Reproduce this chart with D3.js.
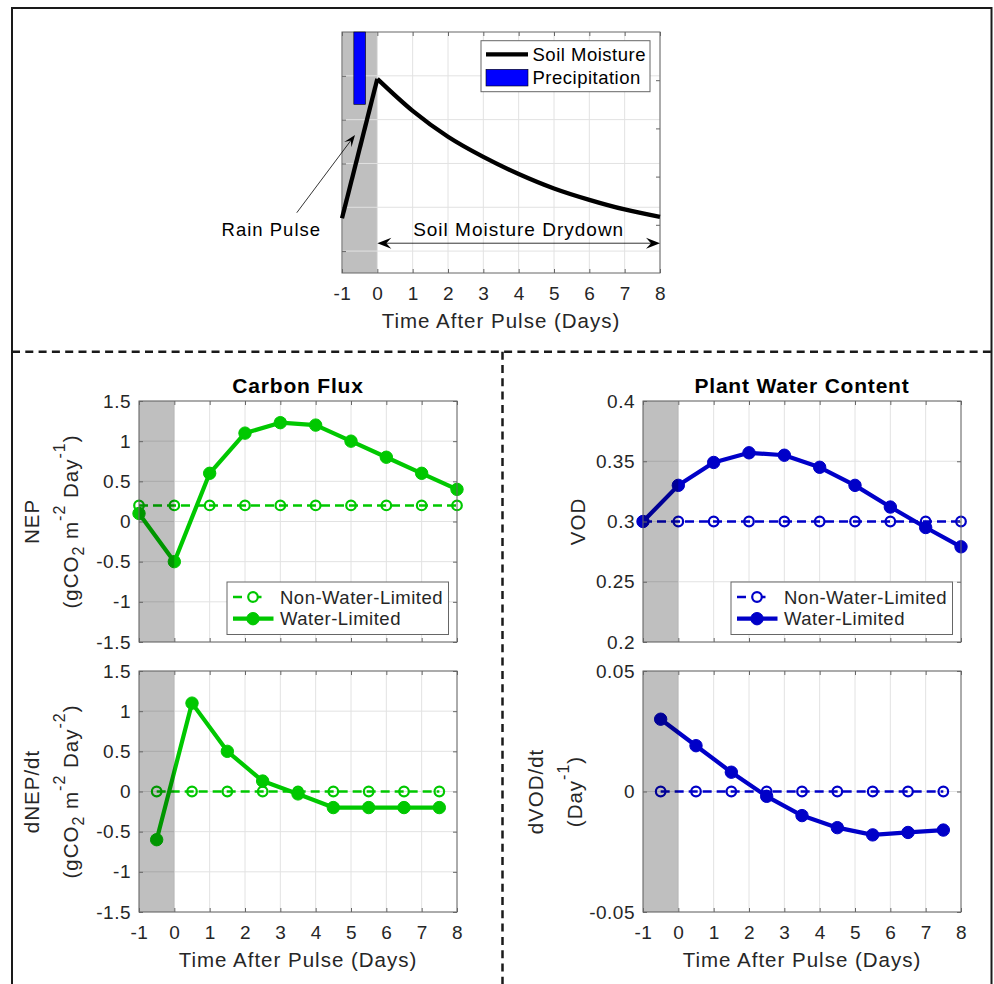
<!DOCTYPE html>
<html>
<head>
<meta charset="utf-8">
<script src="https://cdn.jsdelivr.net/npm/d3@7"></script>
<style>
  body { margin: 0; background: #fff; }
  svg { display: block; font-family: "Liberation Sans", Arial, Helvetica, sans-serif; }
</style>
</head>
<body>
<svg id="fig" width="994" height="984"></svg>
<script>
// --- data ---
const dayTicks = [-1, 0, 1, 2, 3, 4, 5, 6, 7, 8];

// top panel: soil moisture (left axis, arbitrary units) and rain (right axis, reversed)
const smDays = [-1, 0, 1, 2, 3, 4, 5, 6, 7, 8];
const soilMoisture = [0.175, 0.493, 0.420, 0.361, 0.315, 0.276, 0.243, 0.217, 0.195, 0.178];
const smTicks = [0.1, 0.2, 0.3, 0.4, 0.5];
const rainDays = [-0.5];
const rainAmount = [1.5];
const rainTicks = [1, 2, 3, 4];

// daily states (integer days) and day-to-day rates (half days)
const stateDays = [-1, 0, 1, 2, 3, 4, 5, 6, 7, 8];
const rateDays = [-0.5, 0.5, 1.5, 2.5, 3.5, 4.5, 5.5, 6.5, 7.5];

const nepNonLimited = [0.2, 0.2, 0.2, 0.2, 0.2, 0.2, 0.2, 0.2, 0.2, 0.2];
const nepLimited = [0.1, -0.5, 0.6, 1.1, 1.23, 1.2, 1.0, 0.8, 0.6, 0.4];
const dnepNonLimited = [0, 0, 0, 0, 0, 0, 0, 0, 0];
const dnepLimited = [-0.6, 1.1, 0.5, 0.13, -0.03, -0.2, -0.2, -0.2, -0.2];

const vodNonLimited = [0.3, 0.3, 0.3, 0.3, 0.3, 0.3, 0.3, 0.3, 0.3, 0.3];
const vodLimited = [0.3, 0.33, 0.349, 0.357, 0.355, 0.345, 0.33, 0.312, 0.295, 0.279];
const dvodNonLimited = [0, 0, 0, 0, 0, 0, 0, 0, 0];
const dvodLimited = [0.03, 0.019, 0.008, -0.002, -0.01, -0.015, -0.018, -0.017, -0.016];

const nepTicks = [-1.5, -1, -0.5, 0, 0.5, 1, 1.5];
const vodTicks = [0.2, 0.25, 0.3, 0.35, 0.4];
const dvodTicks = [-0.05, 0, 0.05];

const seriesNames = ["Non-Water-Limited", "Water-Limited"];

// --- style ---
const W = 318, H = 241;
const GREEN = "rgb(0,200,0)";
const BLUE = "rgb(0,0,200)";
const GRID = "#e2e2e2";
const AXIS = "#666";
const TXT = "#262626";
const TICK_FONT = 19;

const svg = d3.select("#fig");

// outer frame and dashed dividers
svg.append("rect").attr("x", 12).attr("y", 8).attr("width", 979.5).attr("height", 1000)
  .attr("fill", "none").attr("stroke", "#1a1a1a").attr("stroke-width", 2);
svg.append("line").attr("x1", 12).attr("x2", 991).attr("y1", 351.7).attr("y2", 351.7)
  .attr("stroke", "#1a1a1a").attr("stroke-width", 2.5).attr("stroke-dasharray", "8,5.3");
svg.append("line").attr("x1", 502.5).attr("x2", 502.5).attr("y1", 351.7).attr("y2", 984)
  .attr("stroke", "#1a1a1a").attr("stroke-width", 2.5).attr("stroke-dasharray", "8,5.3");

function makeAxes(left, top, yDomain) {
  return {
    left, top,
    x: d3.scaleLinear().domain([-1, 8]).range([left, left + W]),
    y: d3.scaleLinear().domain(yDomain).range([top + H, top])
  };
}

function drawGrid(g, ax, yTicks) {
  g.append("g").selectAll("line").data(dayTicks).join("line")
    .attr("x1", d => ax.x(d)).attr("x2", d => ax.x(d))
    .attr("y1", ax.top).attr("y2", ax.top + H)
    .attr("stroke", GRID).attr("stroke-width", 1);
  g.append("g").selectAll("line").data(yTicks).join("line")
    .attr("x1", ax.left).attr("x2", ax.left + W)
    .attr("y1", d => ax.y(d)).attr("y2", d => ax.y(d))
    .attr("stroke", GRID).attr("stroke-width", 1);
}

function styleAxis(sel) {
  sel.select(".domain").remove();
  sel.selectAll(".tick line").attr("stroke", AXIS);
  sel.selectAll(".tick text").attr("fill", TXT).attr("font-size", TICK_FONT)
    .attr("letter-spacing", "0.5px").attr("font-family", null);
}

function drawBox(g, ax, opts) {
  const none = () => "";
  const fmt = d => String(d);
  g.append("g").attr("transform", `translate(0,${ax.top + H})`)
    .call(d3.axisBottom(ax.x).tickValues(dayTicks).tickSize(-4).tickPadding(13.5)
      .tickFormat(opts.xLabels ? fmt : none))
    .call(styleAxis);
  g.append("g").attr("transform", `translate(0,${ax.top})`)
    .call(d3.axisTop(ax.x).tickValues(dayTicks).tickSize(-4).tickFormat(none))
    .call(styleAxis);
  g.append("g").attr("transform", `translate(${ax.left},0)`)
    .call(d3.axisLeft(ax.y).tickValues(opts.yTicks).tickSize(-4).tickPadding(8)
      .tickFormat(opts.yLabels ? fmt : none))
    .call(styleAxis);
  const ry = opts.rightScale || ax.y;
  g.append("g").attr("transform", `translate(${ax.left + W},0)`)
    .call(d3.axisRight(ry).tickValues(opts.rightTicks || opts.yTicks).tickSize(-4).tickFormat(none))
    .call(styleAxis);
  g.append("rect").attr("x", ax.left).attr("y", ax.top).attr("width", W).attr("height", H)
    .attr("fill", "none").attr("stroke", AXIS).attr("stroke-width", 1);
}

function drawShade(g, ax, opacity) {
  g.append("rect")
    .attr("x", ax.x(-1)).attr("width", ax.x(0) - ax.x(-1))
    .attr("y", ax.top).attr("height", H)
    .attr("fill", "#000").attr("fill-opacity", opacity);
}

function drawSeries(g, ax, xs, ys, color, filled) {
  const pts = xs.map((d, i) => [d, ys[i]]);
  const line = d3.line().x(d => ax.x(d[0])).y(d => ax.y(d[1]));
  g.append("path").datum(pts).attr("d", line)
    .attr("fill", "none").attr("stroke", color)
    .attr("stroke-width", filled ? 4.2 : 2.6)
    .attr("stroke-dasharray", filled ? null : "9,5")
    .attr("stroke-linejoin", "round");
  g.append("g").selectAll("circle").data(pts).join("circle")
    .attr("cx", d => ax.x(d[0])).attr("cy", d => ax.y(d[1]))
    .attr("r", filled ? 6.2 : 4.8)
    .attr("fill", filled ? color : "none")
    .attr("stroke", color).attr("stroke-width", filled ? 1 : 2.2);
}

function drawLegend(g, ax, color) {
  const bw = 221.5, bh = 52.5;
  const bx = ax.left + W - 8.5 - bw, by = ax.top + H - 7.5 - bh;
  const lg = g.append("g").attr("transform", `translate(${bx},${by})`);
  lg.append("rect").attr("width", bw).attr("height", bh)
    .attr("fill", "#fff").attr("stroke", AXIS).attr("stroke-width", 1);
  seriesNames.forEach((name, i) => {
    const filled = i === 1;
    const cy = 15 + i * 21.7;
    lg.append("line").attr("x1", 6).attr("x2", filled ? 46.5 : 42).attr("y1", cy).attr("y2", cy)
      .attr("stroke", color).attr("stroke-width", filled ? 4.2 : 2.6)
      .attr("stroke-dasharray", filled ? null : "9,10.5");
    lg.append("circle").attr("cx", 26).attr("cy", cy).attr("r", filled ? 6.2 : 4.8)
      .attr("fill", filled ? color : "#fff").attr("stroke", color)
      .attr("stroke-width", filled ? 1 : 2.2);
    lg.append("text").attr("x", 53).attr("y", cy).attr("dy", "0.36em")
      .attr("font-size", 18.5).attr("letter-spacing", "0.5px").attr("fill", TXT)
      .text(name);
  });
}

// rotated y label; parts: [text, "n" | "sub" | "sup"]
function yLabel(g, ax, lines) {
  const cy = ax.top + H / 2;
  const offsets = lines.length === 2 ? [100, 61] : [58];
  lines.forEach((parts, i) => {
    const t = g.append("text")
      .attr("transform", `translate(${ax.left - offsets[i]},${cy}) rotate(-90)`)
      .attr("text-anchor", "middle").attr("fill", TXT)
      .attr("font-size", 20.5).attr("letter-spacing", "1px");
    let shift = 0;
    parts.forEach(([str, kind]) => {
      const target = kind === "sup" ? -13 : kind === "sub" ? 6 : 0;
      t.append("tspan").attr("dy", target - shift)
        .attr("font-size", kind === "n" ? 20.5 : 16)
        .text(str);
      shift = target;
    });
  });
}

function xLabel(g, ax) {
  g.append("text").attr("x", ax.left + W / 2).attr("y", ax.top + H + 55)
    .attr("text-anchor", "middle").attr("fill", TXT)
    .attr("font-size", 20.5).attr("letter-spacing", "1px")
    .text("Time After Pulse (Days)");
}

function title(g, ax, str) {
  g.append("text").attr("x", ax.left + W / 2).attr("y", ax.top - 8)
    .attr("text-anchor", "middle").attr("fill", "#000")
    .attr("font-size", 21).attr("font-weight", "bold").attr("letter-spacing", "0.8px")
    .text(str);
}

function arrowHead(g, x0, y0, x1, y1, len, half, notch) {
  const dx = x1 - x0, dy = y1 - y0, L = Math.hypot(dx, dy);
  const ux = dx / L, uy = dy / L, nx = -uy, ny = ux;
  const pts = [
    [x1, y1],
    [x1 - len * ux + half * nx, y1 - len * uy + half * ny],
    [x1 - notch * ux, y1 - notch * uy],
    [x1 - len * ux - half * nx, y1 - len * uy - half * ny]
  ];
  g.append("path").attr("d", "M" + pts.join("L") + "Z").attr("fill", "#000");
}

// --- top panel: rain pulse and drydown ---
{
  const ax = makeAxes(342, 32, [0.05, 0.6]);
  const rainY = d3.scaleLinear().domain([0, 5]).range([ax.top, ax.top + H]);
  const g = svg.append("g");
  drawShade(g, ax, 0.25);
  drawGrid(g, ax, smTicks);
  drawBox(g, ax, { yTicks: smTicks, yLabels: false, xLabels: true, rightScale: rainY, rightTicks: rainTicks });

  const barW = ax.x(-0.17) - ax.x(-0.5);
  g.append("g").selectAll("rect").data(rainDays).join("rect")
    .attr("x", d => ax.x(d) - barW / 2).attr("width", barW)
    .attr("y", rainY(0)).attr("height", (d, i) => rainY(rainAmount[i]) - rainY(0))
    .attr("fill", "#0000ff").attr("stroke", "#000").attr("stroke-width", 0.6);

  const pts = smDays.map((d, i) => [d, soilMoisture[i]]);
  const line = d3.line().x(d => ax.x(d[0])).y(d => ax.y(d[1]));
  g.append("path").datum(pts.slice(0, 2)).attr("d", line)
    .attr("fill", "none").attr("stroke", "#000").attr("stroke-width", 4.3);
  g.append("path").datum(pts.slice(1)).attr("d", line.curve(d3.curveMonotoneX))
    .attr("fill", "none").attr("stroke", "#000").attr("stroke-width", 4.3);

  // legend
  const lg = g.append("g").attr("transform", `translate(${ax.left + W - 10 - 169},${ax.top + 8.7})`);
  lg.append("rect").attr("width", 169).attr("height", 51)
    .attr("fill", "#fff").attr("stroke", AXIS).attr("stroke-width", 1);
  lg.append("line").attr("x1", 5).attr("x2", 47).attr("y1", 13.6).attr("y2", 13.6)
    .attr("stroke", "#000").attr("stroke-width", 4.3);
  lg.append("rect").attr("x", 5).attr("y", 28.6).attr("width", 42).attr("height", 16.7)
    .attr("fill", "#0000ff").attr("stroke", "#000").attr("stroke-width", 0.6);
  [["Soil Moisture", 13.6], ["Precipitation", 36.6]].forEach(([s, y]) => {
    lg.append("text").attr("x", 51.5).attr("y", y).attr("dy", "0.36em")
      .attr("font-size", 18.5).attr("letter-spacing", "0.5px").attr("fill", "#000").text(s);
  });

  // annotations
  const tail = [ax.x(-2.28), ax.y(0.1876)], tip = [ax.x(-0.632), ax.y(0.365)];
  const L = Math.hypot(tip[0] - tail[0], tip[1] - tail[1]);
  const back = [tip[0] - 6 * (tip[0] - tail[0]) / L, tip[1] - 6 * (tip[1] - tail[1]) / L];
  g.append("line").attr("x1", tail[0]).attr("y1", tail[1]).attr("x2", back[0]).attr("y2", back[1])
    .attr("stroke", "#000").attr("stroke-width", 0.8);
  arrowHead(g, tail[0], tail[1], tip[0], tip[1], 12, 4.5, 7);
  g.append("text").attr("x", ax.x(-3.0)).attr("y", ax.y(0.134))
    .attr("text-anchor", "middle").attr("font-size", 18.5).attr("letter-spacing", "1px")
    .attr("fill", "#000").text("Rain Pulse");

  const ya = ax.y(0.118), xa = ax.x(0), xb = ax.x(8);
  g.append("line").attr("x1", xa + 8).attr("x2", xb - 8).attr("y1", ya).attr("y2", ya)
    .attr("stroke", "#000").attr("stroke-width", 0.8);
  arrowHead(g, xb, ya, xa, ya, 14, 5.5, 9);
  arrowHead(g, xa, ya, xb, ya, 14, 5.5, 9);
  g.append("text").attr("x", ax.x(4)).attr("y", ax.y(0.134))
    .attr("text-anchor", "middle").attr("font-size", 19).attr("letter-spacing", "1px")
    .attr("fill", "#000").text("Soil Moisture Drydown");
  xLabel(g, ax);
}

// --- lower panels ---
function fluxPanel(left, top, yDomain, yTicks, xs, nonLim, lim, color, opts) {
  const ax = makeAxes(left, top, yDomain);
  const g = svg.append("g");
  drawGrid(g, ax, yTicks);
  drawSeries(g, ax, xs, nonLim, color, false);
  drawSeries(g, ax, xs, lim, color, true);
  drawShade(g, ax, 0.25);
  drawBox(g, ax, { yTicks, yLabels: true, xLabels: opts.xLabels });
  if (opts.legend) drawLegend(g, ax, color);
  if (opts.title) title(g, ax, opts.title);
  if (opts.xLabels) xLabel(g, ax);
  yLabel(g, ax, opts.ylabel);
}

const nepUnits = [["(gCO", "n"], ["2", "sub"], [" m", "n"], ["-2", "sup"], [" Day", "n"], ["-1", "sup"], [")", "n"]];
const dnepUnits = [["(gCO", "n"], ["2", "sub"], [" m", "n"], ["-2", "sup"], [" Day", "n"], ["-2", "sup"], [")", "n"]];

fluxPanel(139, 401, [-1.5, 1.5], nepTicks, stateDays, nepNonLimited, nepLimited, GREEN,
  { legend: true, title: "Carbon Flux", xLabels: false, ylabel: [[["NEP", "n"]], nepUnits] });
fluxPanel(139, 671, [-1.5, 1.5], nepTicks, rateDays, dnepNonLimited, dnepLimited, GREEN,
  { legend: false, xLabels: true, ylabel: [[["dNEP/dt", "n"]], dnepUnits] });
fluxPanel(643, 401, [0.2, 0.4], vodTicks, stateDays, vodNonLimited, vodLimited, BLUE,
  { legend: true, title: "Plant Water Content", xLabels: false, ylabel: [[["VOD", "n"]]] });
fluxPanel(643, 671, [-0.05, 0.05], dvodTicks, rateDays, dvodNonLimited, dvodLimited, BLUE,
  { legend: false, xLabels: true, ylabel: [[["dVOD/dt", "n"]], [["(Day", "n"], ["-1", "sup"], [")", "n"]]] });
</script>
</body>
</html>
